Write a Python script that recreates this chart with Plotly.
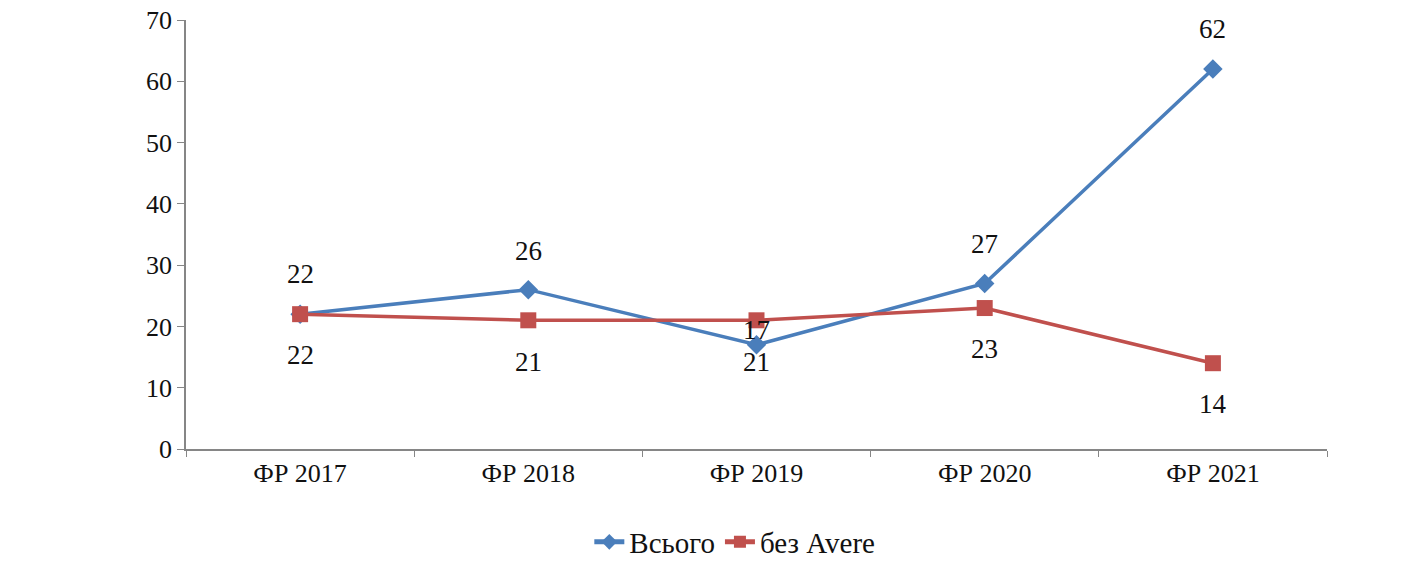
import plotly.graph_objects as go

categories = ["ФР 2017", "ФР 2018", "ФР 2019", "ФР 2020", "ФР 2021"]
total = [22, 26, 17, 27, 62]
without_avere = [22, 21, 21, 23, 14]
y_ticks = [0, 10, 20, 30, 40, 50, 60, 70]

# vertical offsets (px) of the value labels; the 2019 total label sits lower
total_label_shift = [40, 39, 15, 40, 40]
without_label_shift = [-41, -42, -42, -41, -41]

FONT = "Liberation Serif, Times New Roman, serif"
BLUE = "#4A7EBB"
RED = "#C0504D"
TEXT = "#111111"
AXIS = "#868686"

fig = go.Figure()
fig.add_trace(go.Scatter(
    x=categories, y=total, name="Всього",
    mode="lines+markers",
    line=dict(color=BLUE, width=3.5),
    marker=dict(symbol="diamond", size=15, color=BLUE),
))
fig.add_trace(go.Scatter(
    x=categories, y=without_avere, name="без Avere",
    mode="lines+markers",
    line=dict(color=RED, width=3.5),
    marker=dict(symbol="square", size=16, color=RED),
))

for cat, val, dy in zip(categories, total, total_label_shift):
    fig.add_annotation(x=cat, y=val, text=str(val), showarrow=False,
                       yshift=dy, font=dict(family=FONT, size=27, color=TEXT))
for cat, val, dy in zip(categories, without_avere, without_label_shift):
    fig.add_annotation(x=cat, y=val, text=str(val), showarrow=False,
                       yshift=dy, font=dict(family=FONT, size=27, color=TEXT))

fig.update_layout(
    width=1405, height=564,
    margin=dict(l=186, r=78, t=20, b=115, autoexpand=False),
    paper_bgcolor="white", plot_bgcolor="white",
    font=dict(family=FONT, size=26, color=TEXT),
    showlegend=True,
    legend=dict(orientation="h", x=0.481, xanchor="center", xref="paper",
                y=22 / 564, yanchor="middle", yref="container",
                itemsizing="constant", tracegroupgap=0,
                font=dict(family=FONT, size=29, color=TEXT)),
)
fig.update_xaxes(
    type="category", range=[-0.5, 4.5],
    showline=True, linecolor=AXIS, linewidth=1.5,
    ticks="outside", tickson="boundaries", ticklen=6, tickcolor=AXIS,
    showgrid=False, zeroline=False,
    tickfont=dict(family=FONT, size=26, color=TEXT),
)
fig.update_yaxes(
    range=[0, 70], tickvals=y_ticks,
    showline=True, linecolor=AXIS, linewidth=1.5,
    ticks="outside", ticklen=7, tickcolor=AXIS,
    showgrid=False, zeroline=False,
    tickfont=dict(family=FONT, size=26, color=TEXT),
)

fig.write_html("out.html")
